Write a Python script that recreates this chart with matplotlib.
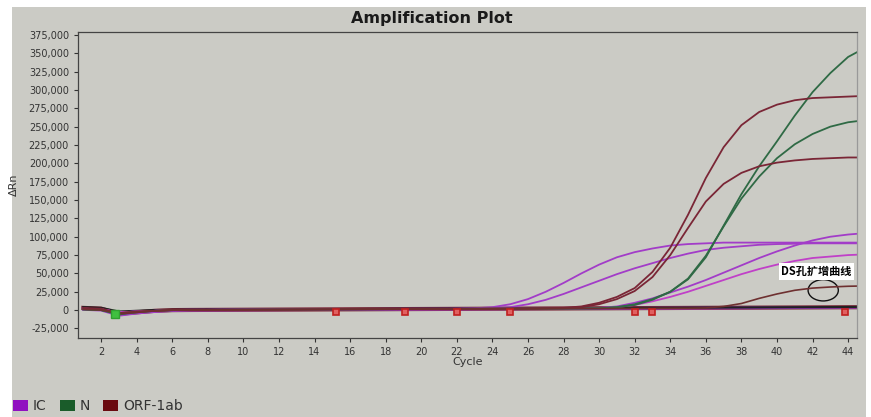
import numpy as np
import matplotlib.pyplot as plt
from matplotlib.patches import Rectangle, Ellipse
from matplotlib.ticker import FuncFormatter

plt.rcParams['font.family'] = ['DejaVu Sans', 'Noto Sans CJK SC']

cycles = np.arange(1, 46)

# delta Rn values in thousands, cycle 1..45
orf1 = [3, 2, -4, -2, -1, 0, 0.2, 0.3, 0.4, 0.5, 0.6, 0.7, 0.8, 0.9, 1.0,
        1.1, 1.2, 1.3, 1.4, 1.5, 1.6, 1.7, 1.8, 1.9, 2.0, 2.2, 2.5,
        3, 5, 10, 18, 30, 52, 85, 130, 180, 222, 252, 270, 280, 286, 289, 290, 291, 292]
orf2 = [2, 1, -5, -3, -1, 0, 0.2, 0.3, 0.4, 0.5, 0.6, 0.7, 0.8, 0.9, 1.0,
        1.1, 1.2, 1.3, 1.4, 1.5, 1.6, 1.7, 1.8, 1.9, 2.0, 2.1, 2.3,
        2.5, 4, 8, 15, 26, 45, 75, 112, 148, 172, 187, 196, 201, 204, 206, 207, 208, 208]
n1 = [1, 0, -6, -3, -1, 0, 0.2, 0.3, 0.4, 0.5, 0.6, 0.7, 0.8, 0.9, 1.0,
      1.1, 1.2, 1.3, 1.4, 1.5, 1.6, 1.7, 1.8, 1.9, 2.0, 2.0, 2.1,
      2.2, 2.3, 2.5, 4, 8, 15, 25, 42, 72, 115, 158, 196, 230, 265, 297, 323, 345, 358]
n2 = [1, 0, -5, -3, -1, 0, 0.2, 0.3, 0.4, 0.5, 0.6, 0.7, 0.8, 0.9, 1.0,
      1.1, 1.2, 1.3, 1.4, 1.5, 1.6, 1.7, 1.8, 1.9, 2.0, 2.0, 2.1,
      2.2, 2.3, 2.5, 4, 7, 14, 25, 43, 74, 114, 152, 182, 207, 226, 240, 250, 256, 259]
ic1 = [2, 1, -3, -2, -1, 0, 0.2, 0.3, 0.4, 0.5, 0.6, 0.7, 0.8, 0.9, 1.0,
       1.1, 1.2, 1.3, 1.4, 1.5, 1.6, 1.8, 2.5, 4, 8, 15, 25, 37, 50, 62,
       72, 79, 84, 88, 90, 91, 92, 92, 92, 92, 92, 92, 92, 92, 92]
ic2 = [2, 1, -3, -2, -1, 0, 0.2, 0.3, 0.4, 0.5, 0.6, 0.7, 0.8, 0.9, 1.0,
       1.1, 1.2, 1.3, 1.4, 1.5, 1.6, 1.7, 1.8, 2.5, 4, 8, 14, 22, 31, 40,
       49, 57, 64, 71, 77, 82, 85, 87, 89, 90, 90.5, 91, 91, 91, 91]
ic3 = [2, 1, -3, -2, -1, 0, 0.2, 0.3, 0.4, 0.5, 0.6, 0.7, 0.8, 0.9, 1.0,
       1.1, 1.2, 1.3, 1.4, 1.5, 1.6, 1.7, 1.8, 1.9, 2.0, 2.0, 2.0, 2.1, 2.2, 3,
       5, 10, 16, 24, 32, 41, 51, 61, 71, 80, 88, 95, 100, 103, 105]
ic4 = [2, 1, -3, -2, -1, 0, 0.2, 0.3, 0.4, 0.5, 0.6, 0.7, 0.8, 0.9, 1.0,
       1.1, 1.2, 1.3, 1.4, 1.5, 1.6, 1.7, 1.8, 1.9, 2.0, 2.0, 2.0, 2.1, 2.2, 2.5,
       4, 7, 12, 18, 25, 33, 41, 49, 56, 62, 67, 71, 73, 75, 76]
ds_well = [1, 0, -4, -2, -1, 0, 0.2, 0.3, 0.4, 0.5, 0.6, 0.7, 0.8, 0.9, 1.0,
           1.1, 1.2, 1.3, 1.4, 1.5, 1.6, 1.7, 1.8, 1.9, 2.0, 2.0, 2.1, 2.1, 2.2, 2.2,
           2.3, 2.3, 2.4, 2.5, 2.6, 3, 5, 9, 16, 22, 27, 30, 31.5, 32.5, 33]
flat_a = [4, 3, -2, -1, 0, 0.3, 0.5, 0.6, 0.7, 0.8, 0.9, 1.0, 1.1, 1.2, 1.3,
          1.4, 1.5, 1.6, 1.7, 1.8, 1.9, 2.0, 2.1, 2.2, 2.3, 2.4, 2.5, 2.6, 2.7, 2.8,
          2.9, 3.0, 3.1, 3.2, 3.3, 3.4, 3.5, 3.6, 3.7, 3.8, 3.9, 4.0, 4.1, 4.2, 4.3]
flat_b = [3, 2, -5, -3, -1, 0, 0.2, 0.3, 0.4, 0.5, 0.6, 0.7, 0.8, 0.9, 1.0,
          1.1, 1.2, 1.3, 1.4, 1.5, 1.6, 1.7, 1.8, 1.9, 2.0, 2.1, 2.2, 2.3, 2.4, 2.5,
          2.6, 2.7, 2.8, 2.9, 3.0, 3.1, 3.2, 3.3, 3.4, 3.5, 3.6, 3.7, 3.8, 3.9, 4.0]
flat_c = [1, 0, -7, -4, -2, -0.5, 0, 0.1, 0.2, 0.3, 0.4, 0.5, 0.6, 0.7, 0.8,
          0.9, 1.0, 1.1, 1.2, 1.3, 1.4, 1.5, 1.6, 1.7, 1.8, 1.9, 2.0, 2.1, 2.2, 2.3,
          2.4, 2.5, 2.6, 2.7, 2.8, 2.9, 3.0, 3.1, 3.2, 3.3, 3.4, 3.5, 3.6, 3.7, 3.8]

ct_red = [15.2, 19.1, 22.0, 25.0, 32.0, 33.0, 43.8]
ct_green = [2.8]

c_ic = '#a23cc8'
c_ic2 = '#c040c8'
c_n = '#2f6a45'
c_orf = '#7a2636'
c_ds = '#6e3030'

fig = plt.figure(figsize=(8.71, 4.17), dpi=100)
fig.patch.set_facecolor('white')
bg = '#cbcbc5'
fig.patches.append(Rectangle((12 / 871, 0), 854 / 871, 410 / 417,
                             transform=fig.transFigure, facecolor=bg,
                             edgecolor='none', zorder=-10))

ax = fig.add_axes([78 / 871, 1 - 338 / 417, 779 / 871, 306 / 417])
ax.set_facecolor(bg)

k = 1000.0
# flat / negative wells
ax.plot(cycles, np.array(flat_b) * k, color=c_orf, lw=3.0)
ax.plot(cycles, np.array(flat_c) * k, color=c_ic, lw=2.0)
ax.plot(cycles, np.array(flat_a) * k, color='#222222', lw=1.6)

for vals, col in [(ic1, c_ic), (ic2, c_ic), (ic3, c_ic), (ic4, c_ic2)]:
    ax.plot(cycles, np.array(vals) * k, color=col, lw=1.3)
for vals in [n1, n2]:
    ax.plot(cycles, np.array(vals) * k, color=c_n, lw=1.3)
for vals in [orf1, orf2]:
    ax.plot(cycles, np.array(vals) * k, color=c_orf, lw=1.3)
ax.plot(cycles, np.array(ds_well) * k, color=c_ds, lw=1.2)

ax.plot(ct_red, [-2500] * len(ct_red), 's', ms=5, mfc='#e06060',
        mec='#c02020', mew=1.2, linestyle='none')
ax.plot(ct_green, [-5000] * len(ct_green), 's', ms=6, mfc='#40c040',
        mec='#30a030', linestyle='none')

ax.set_xlim(0.7, 44.5)
ax.set_ylim(-38000, 379000)
ax.set_xticks(np.arange(2, 45, 2))
ax.set_yticks(np.arange(-25000, 375001, 25000))
ax.yaxis.set_major_formatter(FuncFormatter(lambda v, p: f'{int(v):,}'))
ax.tick_params(labelsize=7, colors='#333333', length=3)
for s in ax.spines.values():
    s.set_color('#444444')
    s.set_linewidth(0.9)
ax.spines['right'].set_color('#999999')

ax.set_xlabel('Cycle', fontsize=8, color='#333333', labelpad=0)
fig.text(432 / 871, 1 - 18 / 417, 'Amplification Plot', ha='center', va='center',
         fontsize=11.5, fontweight='bold', color='#1a1a1a')
fig.text(14 / 871, 1 - 185 / 417, 'ΔRn', rotation=90, ha='center', va='center',
         fontsize=8, color='#333333')

ax.text(42.2, 53000, 'DS孔扩增曲线', ha='center', va='center', fontsize=8,
        fontweight='bold', family=['Noto Sans CJK SC', 'DejaVu Sans'],
        bbox=dict(boxstyle='square,pad=0.2', facecolor='white', edgecolor='none'))
ax.add_patch(Ellipse((42.6, 27000), 1.7, 29000, fill=False, edgecolor='#111111', lw=1.0))

# legend row at the bottom
leg = [('IC', '#9010c0', 13, 33), ('N', '#1a5c2a', 60, 80), ('ORF-1ab', '#6a0a10', 103, 123)]
for name, col, xs, xt in leg:
    fig.patches.append(Rectangle((xs / 871, 1 - 411 / 417), 15 / 871, 11 / 417,
                                 transform=fig.transFigure, facecolor=col,
                                 edgecolor='none'))
    fig.text(xt / 871, 1 - 406 / 417, name, ha='left', va='center', fontsize=10,
             color='#333333')

fig.savefig('out.png', dpi=100)
